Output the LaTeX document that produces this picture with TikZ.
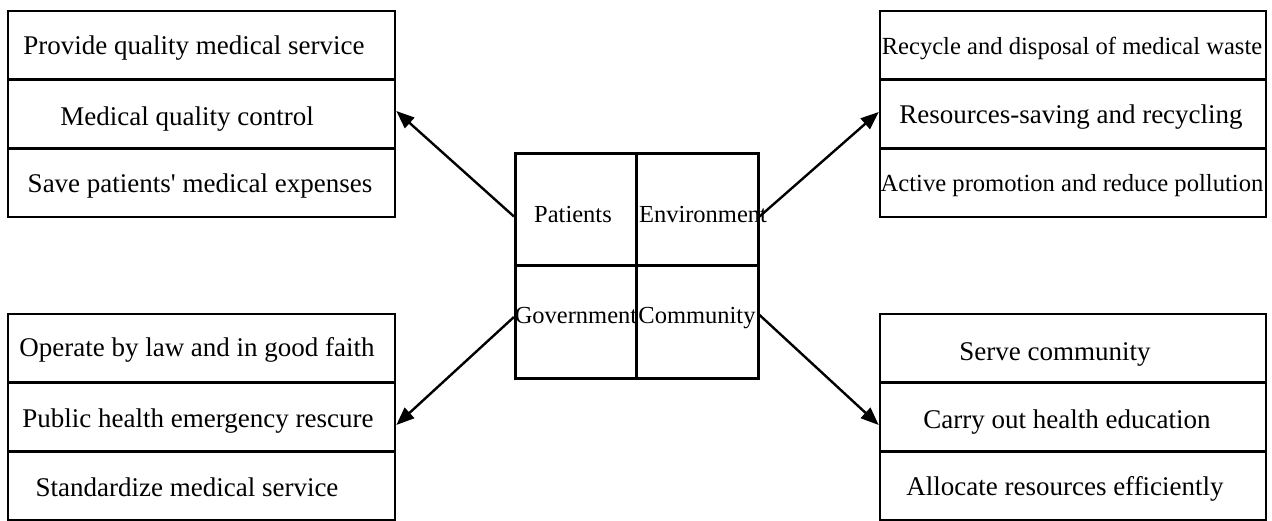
\documentclass[tikz,border=0pt]{standalone}
\usepackage{fontspec}
\setmainfont{Liberation Serif}
\usetikzlibrary{arrows.meta}
\begin{document}
\begin{tikzpicture}[x=1pt,y=-1pt,
  cell/.style={draw, line width=2.6pt, minimum width=387pt, minimum height=68.7pt, inner sep=0pt},
  quad/.style={draw, line width=2.6pt, minimum width=121.5pt, minimum height=112.5pt, inner sep=0pt},
  item/.style={font=\fontsize{27}{30}\selectfont, inner sep=0pt, anchor=base},
  tight/.style={font=\fontsize{24.6}{28}\selectfont},
  tag/.style={font=\fontsize{24.5}{28}\selectfont, inner sep=0pt, anchor=base},
  link/.style={line width=2.4pt, -{Triangle[length=18pt,width=14pt]}}]
\useasboundingbox (0,0) rectangle (1272,521);

% central four-field block
\node[quad] (pat) at (576,209.5) {};
\node[quad] (env) at (697.5,209.5) {};
\node[quad] (gov) at (576,322) {};
\node[quad] (com) at (697.5,322) {};
\node[tag] (patT) at (573,223) {Patients};
\node[tag] (envT) at (703,223) {Environment};
\node[tag] (govT) at (576,324) {Government};
\node[tag] (comT) at (697,324) {Community};

% patients
\node[cell] (tl1) at (201.5,45.3) {};
\node[cell] (tl2) at (201.5,114) {};
\node[cell] (tl3) at (201.5,182.7) {};
\node[item] (tl1T) at (194,55) {Provide quality medical service};
\node[item] (tl2T) at (187,126) {Medical quality control};
\node[item] (tl3T) at (200,193) {Save patients\textquotesingle\ medical expenses};

% environment
\node[cell, minimum width=386pt] (tr1) at (1073,45.3) {};
\node[cell, minimum width=386pt] (tr2) at (1073,114) {};
\node[cell, minimum width=386pt] (tr3) at (1073,182.7) {};
\node[item, tight] (tr1T) at (1072,55) {Recycle and disposal of medical waste};
\node[item] (tr2T) at (1071,124) {Resources-saving and recycling};
\node[item, tight] (tr3T) at (1072,192) {Active promotion and reduce pollution};

% government
\node[cell] (bl1) at (201.5,348.3) {};
\node[cell] (bl2) at (201.5,417) {};
\node[cell] (bl3) at (201.5,485.7) {};
\node[item] (bl1T) at (197,356) {Operate by law and in good faith};
\node[item] (bl2T) at (198,427) {Public health emergency rescure};
\node[item] (bl3T) at (187,496) {Standardize medical service};

% community
\node[cell, minimum width=386pt] (br1) at (1073,348.3) {};
\node[cell, minimum width=386pt] (br2) at (1073,417) {};
\node[cell, minimum width=386pt] (br3) at (1073,485.7) {};
\node[item] (br1T) at (1055,360) {Serve community};
\node[item] (br2T) at (1067,428) {Carry out health education};
\node[item] (br3T) at (1065,495) {Allocate resources efficiently};

% connectors
\draw[link] ([yshift=-7pt]pat.west) -- ([yshift=3pt]tl2.east);
\draw[link] ([yshift=-7pt]env.east) -- ([yshift=2pt]tr2.west);
\draw[link] ([yshift=5pt]gov.west) -- ([yshift=-8pt]bl2.east);
\draw[link] ([yshift=7pt]com.east) -- ([yshift=-8pt]br2.west);
\end{tikzpicture}
\end{document}
